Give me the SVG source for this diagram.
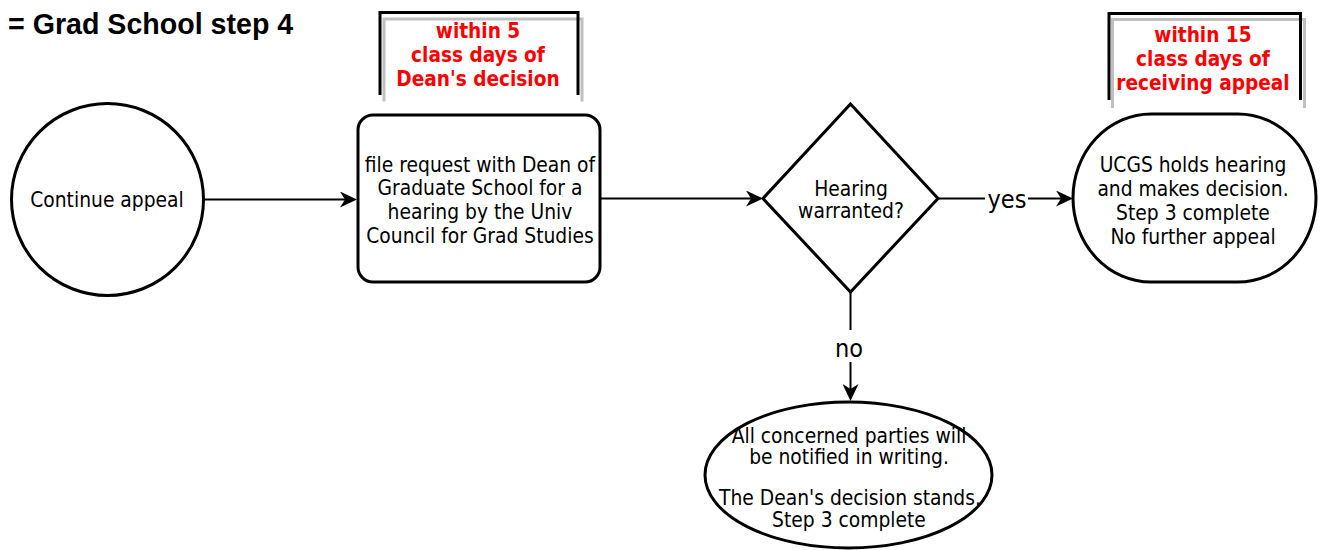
<svg xmlns="http://www.w3.org/2000/svg" width="1322" height="550" viewBox="0 0 1322 550">
<style>
.shape{fill:#ffffff;stroke:#000000;stroke-width:3}
.txt{font-family:"DejaVu Sans Condensed","DejaVu Sans",sans-serif;font-stretch:condensed;font-size:20.8px;fill:#000000;text-anchor:middle}
.lbl{font-family:"DejaVu Sans Condensed","DejaVu Sans",sans-serif;font-stretch:condensed;font-size:25px;fill:#000000;text-anchor:middle}
.red{font-family:"DejaVu Sans Condensed","DejaVu Sans",sans-serif;font-stretch:condensed;font-weight:bold;font-size:20.6px;fill:#ff0000;text-anchor:middle}
.title{font-family:"Liberation Sans",Arial,sans-serif;font-weight:bold;font-size:28.6px;fill:#000000}
.conn{fill:none;stroke:#000000;stroke-width:2}
.brk{fill:none;stroke:#000000;stroke-width:3}
.shd{fill:none;stroke:#c0c0c0;stroke-width:3}
</style>
<defs>
<marker id="arr" viewBox="-17 -8 17 16" refX="-3" refY="0" markerWidth="17" markerHeight="16" orient="auto" markerUnits="userSpaceOnUse">
<path d="M0,0 L-17,-8 L-12,0 L-17,8 Z" fill="#000000"/>
</marker>
</defs>
<rect width="1322" height="550" fill="#ffffff"/>

<g id="title">
<text class="title" x="8" y="33.5">= Grad School step 4</text>
</g>

<g id="note1">
<path class="shd" d="M384,101.5 V19 H582 V101.5"/>
<path class="brk" d="M380,95 V12.5 H578 V95"/>
<text class="red" x="478" y="37.5">within 5</text>
<text class="red" x="478" y="61.5">class days of</text>
<text class="red" x="478" y="85.5">Dean's decision</text>
</g>

<g id="note2">
<path class="shd" d="M1112.5,108 V19.5 H1304.5 V108"/>
<path class="brk" d="M1109,100 V13.5 H1300.5 V100"/>
<text class="red" x="1203" y="42">within 15</text>
<text class="red" x="1203" y="66">class days of</text>
<text class="red" x="1203" y="90">receiving appeal</text>
</g>

<g id="connectors">
<line class="conn" x1="204" y1="199.5" x2="354" y2="199.5" marker-end="url(#arr)"/>
<line class="conn" x1="600" y1="198.5" x2="760" y2="198.5" marker-end="url(#arr)"/>
<line class="conn" x1="938" y1="198.5" x2="985" y2="198.5"/>
<line class="conn" x1="1028" y1="198.5" x2="1070" y2="198.5" marker-end="url(#arr)"/>
<text class="lbl" x="1007" y="208">yes</text>
<line class="conn" x1="850.5" y1="292" x2="850.5" y2="330"/>
<line class="conn" x1="850.5" y1="362" x2="850.5" y2="398" marker-end="url(#arr)"/>
<text class="lbl" x="849" y="357">no</text>
</g>

<g id="start">
<circle class="shape" cx="107.5" cy="199.5" r="96"/>
<text class="txt" x="107" y="206.5">Continue appeal</text>
</g>

<g id="request">
<rect class="shape" x="358" y="115" width="242" height="167" rx="15" ry="15"/>
<text class="txt" x="480" y="171.5">file request with Dean of</text>
<text class="txt" x="480" y="195.3">Graduate School for a</text>
<text class="txt" x="480" y="219">hearing by the Univ</text>
<text class="txt" x="480" y="242.8">Council for Grad Studies</text>
</g>

<g id="decision">
<path class="shape" d="M850.5,104 L938,198.5 L850.5,292 L763,198.5 Z"/>
<text class="txt" x="851" y="196">Hearing</text>
<text class="txt" x="851" y="218">warranted?</text>
</g>

<g id="hearing">
<rect class="shape" x="1073" y="114" width="243" height="168" rx="78" ry="84"/>
<text class="txt" x="1193" y="171.7">UCGS holds hearing</text>
<text class="txt" x="1193" y="195.5">and makes decision.</text>
<text class="txt" x="1193" y="219.5">Step 3 complete</text>
<text class="txt" x="1193" y="244">No further appeal</text>
</g>

<g id="stands">
<ellipse class="shape" cx="848.5" cy="475" rx="143.5" ry="73"/>
<text class="txt" x="849" y="442.5">All concerned parties will</text>
<text class="txt" x="849" y="464">be notified in writing.</text>
<text class="txt" x="850" y="505">The Dean's decision stands.</text>
<text class="txt" x="849" y="526.5">Step 3 complete</text>
</g>
</svg>
